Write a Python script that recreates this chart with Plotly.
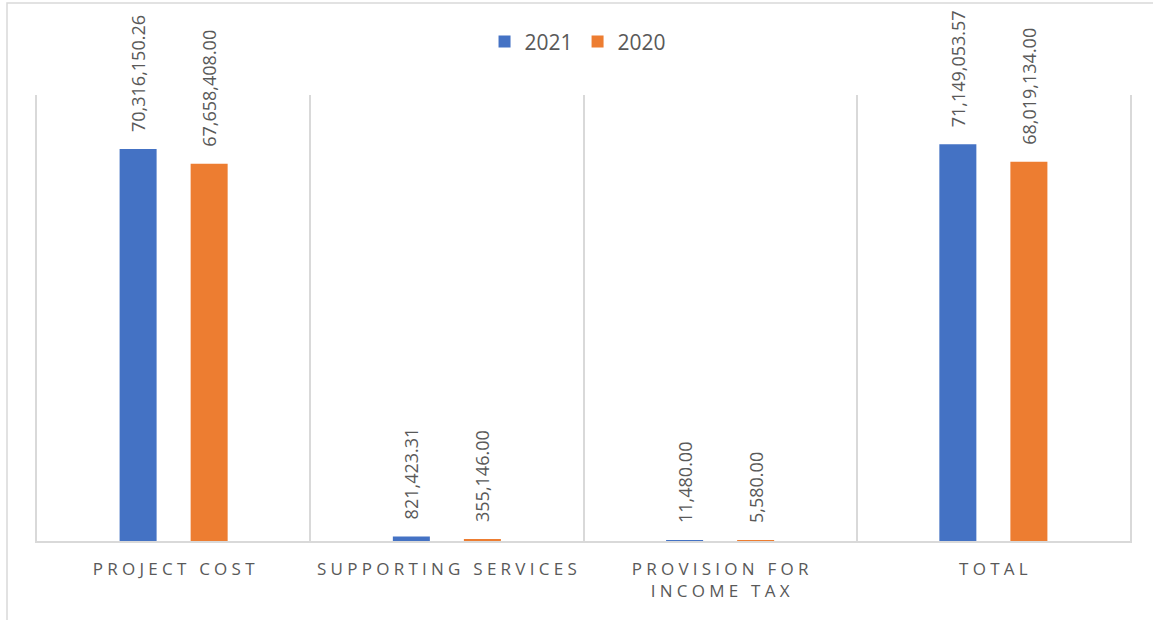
import plotly.graph_objects as go

# Expense categories and yearly amounts
categories = ["PROJECT COST", "SUPPORTING SERVICES", "PROVISION FOR\nINCOME TAX", "TOTAL"]
values_2021 = [70316150.26, 821423.31, 11480.00, 71149053.57]
values_2020 = [67658408.00, 355146.00, 5580.00, 68019134.00]
series_names = ["2021", "2020"]

BLUE = "#4472C4"
ORANGE = "#ED7D31"
GREY_TEXT = "#595959"
GRID = "#D9D9D9"
FONT = "Open Sans, Liberation Sans, sans-serif"


def tracked(label):
    """Widen the letter spacing of a category label."""
    lines = []
    for line in label.split("\n"):
        lines.append("\u2005".join(list(line)))
    return "<br>".join(lines)


tick_text = [tracked(c) for c in categories]

fig = go.Figure()
for name, vals, color in [(series_names[0], values_2021, BLUE),
                          (series_names[1], values_2020, ORANGE)]:
    fig.add_trace(go.Bar(
        name=name,
        x=categories,
        y=vals,
        marker=dict(color=color, line=dict(width=0)),
        texttemplate="\u00a0\u00a0\u00a0%{y:,.2f}",
        textposition="outside",
        textangle=-90,
        constraintext="none",
        cliponaxis=False,
        textfont=dict(family=FONT, size=18, color=GREY_TEXT),
        hoverinfo="skip",
    ))

# outer chart-area border
fig.add_shape(type="rect", xref="paper", yref="paper",
              x0=(7 - 37) / 1093, x1=1.2, y0=-0.5, y1=(541 - 3) / 446,
              line=dict(color=GRID, width=1.5), fillcolor="rgba(0,0,0,0)", layer="below")

fig.update_layout(
    width=1153,
    height=620,
    margin=dict(l=37, r=23, t=95, b=79),
    paper_bgcolor="white",
    plot_bgcolor="white",
    barmode="group",
    bargap=0.48,
    bargroupgap=0.479,
    font=dict(family=FONT, color=GREY_TEXT),
    showlegend=True,
    legend=dict(
        orientation="h",
        x=0.495, xanchor="center",
        y=1.119, yanchor="middle",
        font=dict(family=FONT, size=21, color=GREY_TEXT),
        itemwidth=30,
        bgcolor="rgba(0,0,0,0)",
    ),
    xaxis=dict(
        type="category",
        tickmode="array",
        tickvals=categories,
        ticktext=tick_text,
        tickson="boundaries",
        ticks="",
        showgrid=True,
        gridcolor=GRID,
        gridwidth=1.5,
        showline=True,
        linecolor=GRID,
        linewidth=1.5,
        ticklabelstandoff=12,
        tickfont=dict(family=FONT, size=17, color=GREY_TEXT),
        fixedrange=True,
    ),
    yaxis=dict(
        range=[0, 80000000],
        showgrid=False,
        zeroline=False,
        showticklabels=False,
        showline=True,
        mirror=True,
        linecolor=GRID,
        linewidth=1.5,
        fixedrange=True,
    ),
)

fig.write_html("out.html")
